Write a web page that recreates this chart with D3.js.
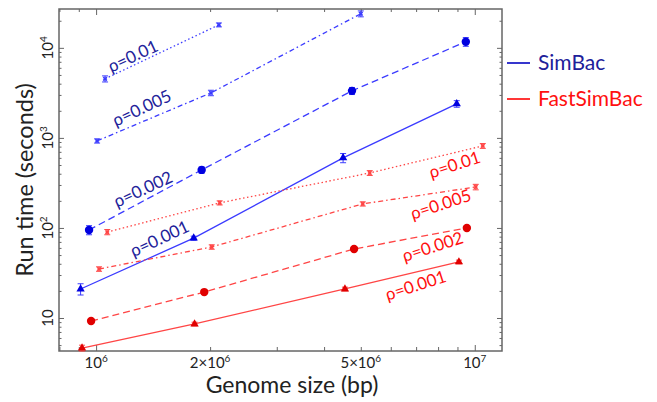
<!DOCTYPE html>
<html>
<head>
<meta charset="utf-8">
<script src="https://cdn.jsdelivr.net/npm/d3@7"></script>
<style>
body { margin: 0; background: #fff; }
text { font-family: Lato, "Open Sans", sans-serif; }
</style>
</head>
<body>
<div id="chart"></div>
<script>
// values, one inner array per rho
var rhos = ["0.001", "0.002", "0.005", "0.01"];

var simbacSizes = [[0.91e6, 1.81e6, 4.49e6, 8.96e6], [0.958e6, 1.90e6, 4.74e6, 9.47e6], [1.006e6, 2.01e6, 5.0e6], [1.056e6, 2.11e6]];
var simbacTimes = [[21, 77, 600, 2390], [95, 441, 3330, 11700], [926, 3160, 23900], [4530, 18000]];
var simbacErrors = [[3, 4, 70, 200], [11, 35, 300, 1300], [50, 220, 1800], [350, 900]];

var fastSizes = [[0.918e6, 1.82e6, 4.54e6, 9.08e6], [0.97e6, 1.93e6, 4.8e6, 9.53e6], [1.018e6, 2.02e6, 5.06e6, 10.06e6], [1.07e6, 2.12e6, 5.28e6, 10.5e6]];
var fastTimes = [[4.64, 8.58, 21, 41.9], [9.26, 19.4, 58.4, 100], [35, 61.5, 185, 285], [90, 190, 408, 815]];
var fastErrors = [[0.35, 0.4, 1, 2], [0.5, 1, 3, 5], [2, 3.5, 10, 20], [6, 10, 25, 50]];

// where each rho label sits, in data units (genome size, run time)
var simbacLabelAt = [[1.47e6, 76], [1.33e6, 270], [1.32e6, 2150], [1.25e6, 8100]];
var fastLabelAt = [[6.98e6, 23], [7.74e6, 62], [8.13e6, 183], [8.85e6, 505]];

var xTickValues = [1e6, 2e6, 5e6, 1e7];
var yTickValues = [10, 100, 1000, 10000];

var width = 657, height = 402;
var plotLeft = 59, plotRight = 502, plotTop = 9, plotBottom = 351;

var svg = d3.select("#chart").append("svg")
    .attr("width", width)
    .attr("height", height)
    .style("background", "#fff");

var x = d3.scaleLog().domain([7.98e5, 1.18e7]).range([plotLeft, plotRight]);
var y = d3.scaleLog().domain([4.3, 27000]).range([plotBottom, plotTop]);

// minor tick values
var xMinor = [], yMinor = [];
[1e5, 1e6].forEach(function(b) {
    for (var k = 2; k < 10; k++) if (b * k > 7.98e5 && b * k < 1.18e7) xMinor.push(b * k);
});
[1, 10, 100, 1000, 10000].forEach(function(b) {
    for (var k = 2; k < 10; k++) if (b * k > 4.3 && b * k < 27000) yMinor.push(b * k);
});
var xMajor = [1e6, 1e7];

var axisColor = "#666";

function tickAxis(axisFn, scale, values, size, tr) {
    var g = svg.append("g")
        .attr("transform", tr)
        .call(axisFn(scale).tickValues(values).tickSize(size).tickFormat(""));
    g.select(".domain").remove();
    g.selectAll("line").attr("stroke", axisColor).attr("stroke-width", 1);
    return g;
}

// inward ticks on all four sides
tickAxis(d3.axisBottom, x, xMajor, -6, "translate(0," + plotBottom + ")");
tickAxis(d3.axisBottom, x, xMinor, -4, "translate(0," + plotBottom + ")");
tickAxis(d3.axisTop, x, xMajor, -6, "translate(0," + plotTop + ")");
tickAxis(d3.axisTop, x, xMinor, -3, "translate(0," + plotTop + ")");
tickAxis(d3.axisLeft, y, yTickValues, -5, "translate(" + plotLeft + ",0)");
tickAxis(d3.axisLeft, y, yMinor, -2.5, "translate(" + plotLeft + ",0)");
tickAxis(d3.axisRight, y, yTickValues, -5, "translate(" + plotRight + ",0)");
tickAxis(d3.axisRight, y, yMinor, -2.5, "translate(" + plotRight + ",0)");

svg.append("rect")
    .attr("x", plotLeft).attr("y", plotTop)
    .attr("width", plotRight - plotLeft).attr("height", plotBottom - plotTop)
    .attr("fill", "none")
    .attr("stroke", axisColor)
    .attr("stroke-width", 1.5);

// x tick labels
var xLab = svg.append("g").attr("font-size", 15).attr("fill", "#222");
xTickValues.forEach(function(v) {
    var e = Math.floor(Math.log10(v) + 1e-9);
    var m = Math.round(v / Math.pow(10, e));
    var t = xLab.append("text")
        .attr("x", x(v))
        .attr("y", 368)
        .attr("text-anchor", "middle");
    t.append("tspan").text((m > 1 ? m + "×" : "") + "10");
    t.append("tspan").attr("font-size", 10).attr("dy", -6).text(e);
});

// y tick labels, rotated
yTickValues.forEach(function(v) {
    var e = Math.round(Math.log10(v));
    var t = svg.append("text")
        .attr("transform", "translate(53," + y(v) + ") rotate(-90)")
        .attr("text-anchor", "middle")
        .attr("font-size", 15)
        .attr("fill", "#222");
    t.append("tspan").text("10");
    if (e > 1) t.append("tspan").attr("font-size", 10).attr("dy", -6).text(e);
});

svg.append("text")
    .attr("transform", "translate(33,180) rotate(-90)")
    .attr("text-anchor", "middle")
    .attr("font-size", 23.5)
    .attr("fill", "#222")
    .text("Run time (seconds)");

svg.append("text")
    .attr("x", 292)
    .attr("y", 393)
    .attr("text-anchor", "middle")
    .attr("font-size", 23)
    .attr("fill", "#222")
    .text("Genome size (bp)");

var dashes = [null, "7,4", "5,3,1.5,3", "1.5,2.5"];

function drawSeries(sizes, times, errors, lineColor, markColor, textColor, labelAt, angle) {
    var line = d3.line()
        .x(function(d) { return x(d[0]); })
        .y(function(d) { return y(d[1]); });

    sizes.forEach(function(xs, i) {
        var pts = xs.map(function(s, j) { return [s, times[i][j], errors[i][j]]; });
        var g = svg.append("g");

        g.append("path")
            .datum(pts)
            .attr("d", line)
            .attr("fill", "none")
            .attr("stroke", lineColor)
            .attr("stroke-width", 1.3)
            .attr("stroke-dasharray", dashes[i]);

        // error bars
        pts.forEach(function(p) {
            var cx = x(p[0]), y0 = y(p[1] - p[2]), y1 = y(p[1] + p[2]);
            g.append("line").attr("x1", cx).attr("x2", cx).attr("y1", y0).attr("y2", y1)
                .attr("stroke", lineColor).attr("stroke-width", 1);
            [y0, y1].forEach(function(yy) {
                g.append("line").attr("x1", cx - 3).attr("x2", cx + 3).attr("y1", yy).attr("y2", yy)
                    .attr("stroke", lineColor).attr("stroke-width", 1);
            });
        });

        // markers
        pts.forEach(function(p) {
            var cx = x(p[0]), cy = y(p[1]);
            if (i == 0) {
                g.append("path")
                    .attr("d", d3.symbol().type(d3.symbolTriangle).size(30)())
                    .attr("transform", "translate(" + cx + "," + cy + ")")
                    .attr("fill", markColor);
            } else if (i == 1) {
                g.append("circle").attr("cx", cx).attr("cy", cy).attr("r", 4.2).attr("fill", markColor);
            } else {
                g.append("path")
                    .attr("d", d3.symbol().type(d3.symbolCross).size(14)())
                    .attr("transform", "translate(" + cx + "," + cy + ") rotate(45)")
                    .attr("fill", lineColor);
            }
        });

        var la = labelAt[i];
        svg.append("text")
            .attr("transform", "translate(" + x(la[0]) + "," + y(la[1]) + ") rotate(" + angle + ")")
            .attr("text-anchor", "middle")
            .attr("dy", "0.35em")
            .attr("font-size", 17)
            .attr("fill", textColor)
            .text("ρ=" + rhos[i]);
    });
}

drawSeries(simbacSizes, simbacTimes, simbacErrors, "#3b3bff", "#0000e0", "#22229a", simbacLabelAt, -25);
drawSeries(fastSizes, fastTimes, fastErrors, "#ff4545", "#e00000", "#ff1010", fastLabelAt, -18);

// legend
var legend = [["SimBac", "#2020c8", "#20209a"], ["FastSimBac", "#ff2020", "#ff1010"]];
legend.forEach(function(l, i) {
    var ly = 63 + i * 36;
    svg.append("line")
        .attr("x1", 507).attr("x2", 530).attr("y1", ly).attr("y2", ly)
        .attr("stroke", l[1]).attr("stroke-width", 1.8);
    svg.append("text")
        .attr("x", 538).attr("y", ly + 7)
        .attr("font-size", 21)
        .attr("fill", l[2])
        .text(l[0]);
});
</script>
</body>
</html>
